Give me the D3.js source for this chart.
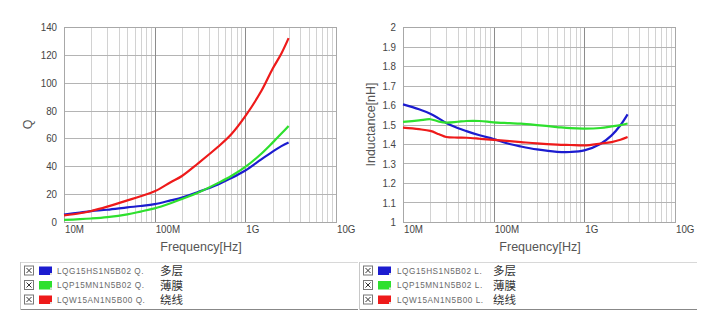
<!DOCTYPE html>
<html><head><meta charset="utf-8">
<script src="https://cdn.jsdelivr.net/npm/d3@7"></script>
<style>
html,body{margin:0;padding:0;background:#fff;}
svg{display:block;}
</style></head>
<body>
<svg id="c" width="716" height="324"></svg>
<script>
// ---------- DATA ----------
const freqQ = [10e6,15e6,20e6,30e6,50e6,70e6,100e6,150e6,200e6,300e6,500e6,700e6,1e9,1.5e9,2e9,2.5e9,3e9];
const qBlue  = [5.3,6.8,7.8,8.8,10.5,11.5,12.8,15.5,17.5,21.5,27,31.5,37,45,50.5,54.5,57];
const qGreen = [1.5,2,2.5,3.5,5.5,7.5,9.8,13.5,16.5,21,28,33,39.5,49,57,63.5,69];
const qRed   = [4.8,6.3,7.9,11,15.5,18.5,22,28.5,33,42,54,63,76,94,110,121,132];

const freqL = [10e6,15e6,20e6,25e6,30e6,40e6,50e6,70e6,100e6,150e6,200e6,300e6,500e6,700e6,1e9,1.5e9,2e9,2.5e9,3e9];
const lBlue  = [1.603,1.578,1.555,1.53,1.508,1.482,1.466,1.445,1.425,1.40,1.387,1.372,1.36,1.359,1.367,1.40,1.444,1.496,1.552];
const lGreen = [1.513,1.521,1.527,1.515,1.51,1.514,1.518,1.518,1.511,1.507,1.504,1.497,1.487,1.481,1.479,1.482,1.49,1.497,1.505];
const lRed   = [1.484,1.476,1.467,1.45,1.436,1.433,1.432,1.427,1.421,1.415,1.41,1.403,1.397,1.395,1.393,1.402,1.41,1.422,1.436];

const qTicks = [0,20,40,60,80,100,120,140];
const lTicks = [1,1.1,1.2,1.3,1.4,1.5,1.6,1.7,1.8,1.9,2];
const freqTickVals = [1e7,1e8,1e9,1e10];
const freqTickLabels = ["10M","100M","1G","10G"];

const seriesColors = ["#1c1ccf","#2ee02e","#ee1a1a"];
const partNames = ["LQG15HS1N5B02","LQP15MN1N5B02","LQW15AN1N5B00"];
const typeNames = ["多层","薄膜","绕线"];

// ---------- DRAW ----------
const svg = d3.select("#c");
const tickFont = "'Liberation Sans',sans-serif";

function chart(x0, x1, y0, y1, yDomain, yTicks, yFmt, yTitle, yTitleX, freqs, seriesVals) {
  const g = svg.append("g");
  const x = d3.scaleLog().domain([1e7,1e10]).range([x0,x1]);
  const y = d3.scaleLinear().domain(yDomain).range([y1,y0]);
  const minors = [];
  for (let d = 1e7; d < 1e10; d *= 10) for (let k = 2; k <= 9; k++) minors.push(d*k);
  g.selectAll(".mv").data(minors).enter().append("line")
    .attr("x1", d=>Math.round(x(d))+0.5).attr("x2", d=>Math.round(x(d))+0.5)
    .attr("y1", y0).attr("y2", y1).attr("stroke","#d2d2d2").attr("stroke-width",1);
  g.selectAll(".hg").data(yTicks).enter().append("line")
    .attr("x1", x0).attr("x2", x1)
    .attr("y1", d=>Math.round(y(d))+0.5).attr("y2", d=>Math.round(y(d))+0.5)
    .attr("stroke","#b4b4b4").attr("stroke-width",1);
  g.selectAll(".dv").data([1e8,1e9]).enter().append("line")
    .attr("x1", d=>Math.round(x(d))+0.5).attr("x2", d=>Math.round(x(d))+0.5)
    .attr("y1", y0).attr("y2", y1).attr("stroke","#8c8c8c").attr("stroke-width",1);
  g.append("rect").attr("x",x0+0.5).attr("y",y0+0.5).attr("width",x1-x0).attr("height",y1-y0)
    .attr("fill","none").attr("stroke","#a8a8a8");
  // y labels (narrowed)
  g.selectAll(".yl").data(yTicks).enter().append("text")
    .attr("transform", d=>`translate(${x0-7},${y(d)+4}) scale(0.85,1)`)
    .attr("text-anchor","end").attr("font-family",tickFont).attr("font-size",11.5)
    .attr("fill","#444").text(yFmt);
  g.selectAll(".xl").data(freqTickVals).enter().append("text")
    .attr("transform", d=>`translate(${x(d)+1},${y1+11}) scale(0.85,1)`)
    .attr("font-family",tickFont).attr("font-size",11.5).attr("fill","#444")
    .text((d,i)=>freqTickLabels[i]);
  g.append("text").attr("x",(x0+x1)/2+1).attr("y",y1+29).attr("text-anchor","middle")
    .attr("font-family","'Liberation Sans',sans-serif").attr("font-size",12.5).attr("fill","#555")
    .text("Frequency[Hz]");
  g.append("text").attr("transform",`translate(${yTitleX},${(y0+y1)/2}) rotate(-90)`)
    .attr("text-anchor","middle").attr("font-family","'Liberation Sans',sans-serif")
    .attr("font-size",12.5).attr("fill","#555").text(yTitle);
  const line = d3.line().x((d,i)=>x(freqs[i])).y(d=>y(d)).curve(d3.curveCatmullRom);
  seriesVals.forEach((vals,i)=>{
    g.append("path").attr("d", line(vals)).attr("fill","none")
      .attr("stroke", seriesColors[i]).attr("stroke-width",2.2).attr("stroke-linejoin","round");
  });
}

chart(64, 336, 27, 222, [0,140], qTicks, d=>d, "Q", 32, freqQ, [qBlue,qGreen,qRed]);
chart(403, 675, 27, 222, [1,2], lTicks, d=>d3.format("")(+d.toFixed(1)), "Inductance[nH]", 375, freqL, [lBlue,lGreen,lRed]);

function legend(bx, bw, suffix, textX, cnX) {
  const g = svg.append("g");
  g.append("line").attr("x1",bx).attr("x2",bx+bw).attr("y1",262.5).attr("y2",262.5).attr("stroke","#d8d8d8");
  g.append("line").attr("x1",bx).attr("x2",bx+bw).attr("y1",309.5).attr("y2",309.5).attr("stroke","#888");
  g.append("line").attr("x1",bx+0.5).attr("x2",bx+0.5).attr("y1",262).attr("y2",310).attr("stroke","#c8c8c8");
  const rows = [270.5, 285, 299.5];
  rows.forEach((cy,i)=>{
    const cbx = bx+4;
    g.append("rect").attr("x",cbx+0.5).attr("y",cy-4.5).attr("width",9).attr("height",9)
      .attr("fill","#fff").attr("stroke","#777");
    g.append("path").attr("d",`M${cbx+2.5},${cy-2.5}L${cbx+7.5},${cy+2.5}M${cbx+7.5},${cy-2.5}L${cbx+2.5},${cy+2.5}`)
      .attr("stroke","#333").attr("stroke-width",1);
    const sx = bx+19;
    g.append("rect").attr("x",sx).attr("y",cy-4).attr("width",13).attr("height",8.5).attr("fill",seriesColors[i]);
    g.append("rect").attr("x",sx+11).attr("y",cy+2.5).attr("width",2).attr("height",2).attr("fill","#ddd");
    g.append("text").attr("x",textX).attr("y",cy+3).attr("font-family","'Liberation Sans',sans-serif")
      .attr("font-size",8.2).attr("letter-spacing",0.55).attr("fill","#6a6a6a")
      .text(partNames[i]+" "+suffix);
    g.append("text").attr("x",cnX).attr("y",cy+4.5).attr("font-family","'Noto Sans CJK SC',sans-serif")
      .attr("font-size",11.5).attr("fill","#333").text(typeNames[i]);
  });
}
legend(20, 338, "Q.", 57, 160);
legend(359, 338, "L.", 397, 493);
</script>
</body></html>
